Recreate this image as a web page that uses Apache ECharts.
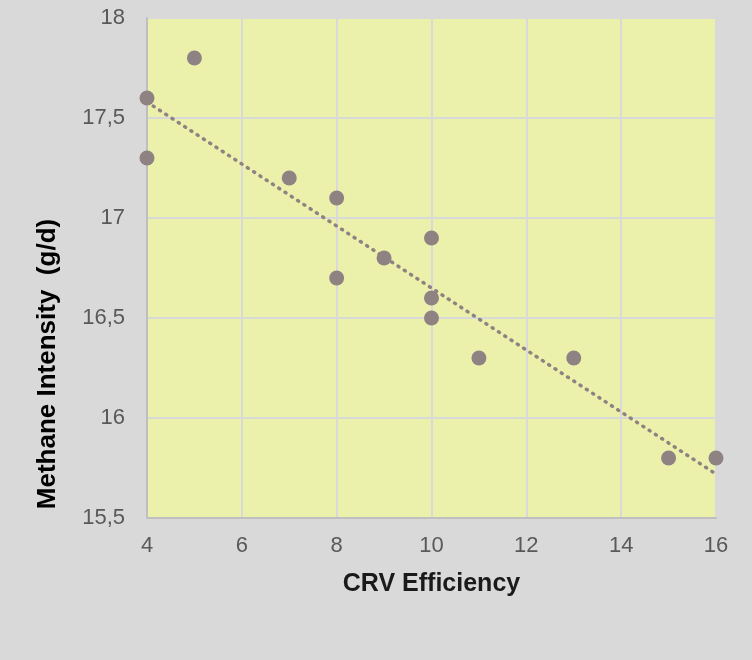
<!DOCTYPE html>
<html>
<head>
<meta charset="utf-8">
<script src="https://cdn.jsdelivr.net/npm/echarts@6/dist/echarts.min.js"></script>
<style>
html, body { margin: 0; padding: 0; background: #d9d9d9; }
#chart { width: 752px; height: 660px; }
</style>
</head>
<body>
<div id="chart"></div>
<script>
// data
var crvEff = [4, 4, 5, 7, 8, 8, 9, 10, 10, 10, 11, 13, 15, 16];
var methane = [17.6, 17.3, 17.8, 17.2, 17.1, 16.7, 16.8, 16.9, 16.6, 16.5, 16.3, 16.3, 15.8, 15.8];
var trendX = [4, 16];
var trendY = [17.58, 15.72];

var points = crvEff.map(function (x, i) { return [x, methane[i]]; });
var trend = trendX.map(function (x, i) { return [x, trendY[i]]; });

var myChart = echarts.init(document.getElementById('chart'));

var font = 'Liberation Sans, Arial, sans-serif';

option = {
	backgroundColor: '#d9d9d9',
	textStyle: { fontFamily: font },
	grid: {
		left: 147,
		right: 36,
		top: 18,
		bottom: 142,
		show: true,
		backgroundColor: '#ebf0ab',
		borderWidth: 0
	},
	xAxis: {
		type: 'value',
		min: 4,
		max: 16,
		interval: 2,
		name: 'CRV Efficiency',
		nameLocation: 'middle',
		nameGap: 54,
		nameTextStyle: { fontSize: 25, fontWeight: 'bold', color: '#1a1a1a', fontFamily: font },
		axisLine: { show: true, lineStyle: { color: '#bfbfbf', width: 2 } },
		axisTick: { show: false },
		axisLabel: { fontSize: 22, color: '#595959', margin: 17, fontFamily: font },
		splitLine: { show: true, lineStyle: { color: '#d9d9d9', width: 2 } }
	},
	yAxis: {
		type: 'value',
		min: 15.5,
		max: 18,
		interval: 0.5,
		axisLine: { show: true, onZero: false, lineStyle: { color: '#bfbfbf', width: 2 } },
		axisTick: { show: false },
		axisLabel: {
			fontSize: 22,
			color: '#595959',
			margin: 22,
			fontFamily: font,
			formatter: function (v) { return String(v).replace('.', ','); }
		},
		splitLine: { show: true, lineStyle: { color: '#d9d9d9', width: 2 } }
	},
	graphic: [{
		type: 'text',
		rotation: Math.PI / 2,
		x: 48,
		y: 364,
		style: {
			text: 'Methane Intensity  (g/d)',
			fill: '#000',
			font: 'bold 26px ' + font,
			align: 'center',
			verticalAlign: 'middle'
		}
	}],
	series: [
		{
			type: 'line',
			data: trend,
			symbol: 'none',
			silent: true,
			lineStyle: { color: '#8f8282', width: 3.5, type: [1, 6.5], cap: 'round' },
			z: 2
		},
		{
			type: 'scatter',
			data: points,
			symbolSize: 15,
			itemStyle: { color: '#8f8282', opacity: 1 },
			z: 3
		}
	]
};

myChart.setOption(option);
</script>
</body>
</html>
